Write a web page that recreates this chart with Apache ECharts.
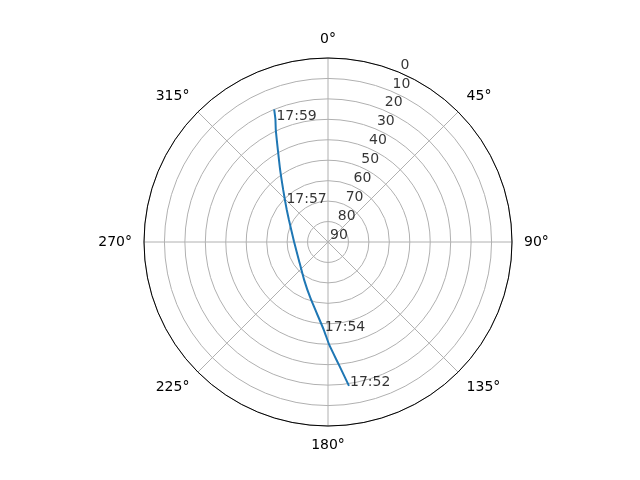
<!DOCTYPE html>
<html lang="en">
<head>
<meta charset="UTF-8">
<title>Sky plot</title>
<script src="https://cdn.jsdelivr.net/npm/echarts@6/dist/echarts.min.js"></script>
<style>
    html, body { margin: 0; padding: 0; background: #fff; }
    #chart { width: 640px; height: 480px; }
</style>
</head>
<body>
<div id="chart"></div>
<script>
    // pass track: azimuth (deg, clockwise from north) and elevation (deg)
    const azimuth   = [171.7, 175.0, 179.4, 182.7, 197.3, 212.5, 238.9, 270.5, 299.6, 308.0, 312.8, 319.3, 326.4, 331.4, 335.0, 336.8, 337.9];
    const elevation = [18.9, 29.9, 39.9, 46.9, 61.2, 68.2, 73.3, 73.4, 68.0, 64.4, 61.6, 56.4, 47.7, 38.8, 29.6, 24.7, 20.0];
    const passTime  = ['17:52', '', '', '17:54', '', '', '', '', '', '', '17:57', '', '', '', '', '17:59', ''];

    const angleTicks = [0, 45, 90, 135, 180, 225, 270, 315];
    const radiusTicks = [0, 10, 20, 30, 40, 50, 60, 70, 80, 90];
    const radiusLabelAngle = 22.5;

    const font = 'DejaVu Sans';
    const chart = echarts.init(document.getElementById('chart'));

    const textStyle = {
        show: true,
        align: 'left',
        verticalAlign: 'bottom',
        color: '#000',
        fontFamily: font,
        fontSize: 14
    };

    const timeMarks = [];
    passTime.forEach((t, i) => {
        if (t) timeMarks.push({ value: [elevation[i], azimuth[i]], name: t });
    });

    chart.setOption({
        animation: false,
        polar: { center: [328, 242], radius: 184 },
        angleAxis: {
            type: 'value',
            min: 0,
            max: 360,
            interval: 45,
            startAngle: 90,
            clockwise: true,
            axisLine: { lineStyle: { color: '#000', width: 1 } },
            axisTick: { show: false },
            axisLabel: {
                margin: 12,
                color: '#000',
                fontFamily: font,
                fontSize: 14,
                formatter: v => angleTicks.includes(v) && v < 360 ? v + '°' : ''
            },
            splitLine: { lineStyle: { color: '#b0b0b0', width: 1 } }
        },
        radiusAxis: {
            type: 'value',
            min: 0,
            max: 90,
            interval: 10,
            inverse: true,
            axisLine: { show: false },
            axisTick: { show: false },
            axisLabel: { show: false },
            splitLine: { lineStyle: { color: '#b0b0b0', width: 1 } }
        },
        series: [
            {
                type: 'scatter',
                coordinateSystem: 'polar',
                symbolSize: 0,
                silent: true,
                data: radiusTicks.map(r => [r, radiusLabelAngle]),
                label: Object.assign({}, textStyle, {
                    position: [2, 0],
                    formatter: p => String(p.value[0])
                })
            },
            {
                type: 'line',
                coordinateSystem: 'polar',
                showSymbol: false,
                smooth: 0.2,
                lineStyle: { color: '#1f77b4', width: 2 },
                data: azimuth.map((az, i) => [elevation[i], az])
            },
            {
                type: 'scatter',
                coordinateSystem: 'polar',
                symbolSize: 0,
                silent: true,
                data: timeMarks,
                label: Object.assign({}, textStyle, {
                    position: [1, 4],
                    formatter: p => p.name
                })
            }
        ]
    });
</script>
</body>
</html>
